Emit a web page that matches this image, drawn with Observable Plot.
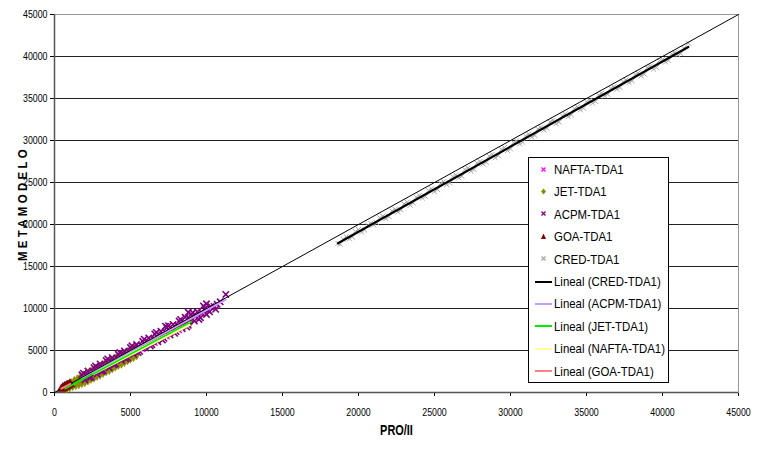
<!DOCTYPE html>
<html>
<head>
<meta charset="utf-8">
<script src="https://cdn.jsdelivr.net/npm/d3@7"></script>
<script src="https://cdn.jsdelivr.net/npm/@observablehq/plot@0.6"></script>
<style>
  html, body { margin: 0; padding: 0; background: white; }
  #wrap { position: relative; width: 757px; height: 450px; }
  #legend {
    position: absolute; left: 528px; top: 157px; width: 141px; height: 226px;
    border: 1px solid #000; background: white; box-sizing: border-box;
    font-family: "Liberation Sans", Arial, sans-serif; font-size: 13.5px; color: #000;
  }
  .row { position: absolute; left: 0; height: 20px; display: flex; align-items: center; white-space: nowrap; }
  .row svg { flex: none; }
  .row span { display: inline-block; transform-origin: left center; margin-left: 1px; }
  [aria-label="y-axis label"] text, [aria-label="x-axis label"] text { font-weight: bold; font-size: 14px; }
  [aria-label="y-axis label"] text { letter-spacing: 4px; font-size: 13.5px; }
</style>
</head>
<body>
<div id="wrap"><div id="legend"></div></div>
<script>
// ---- data ----
const xTicks = [0, 5000, 10000, 15000, 20000, 25000, 30000, 35000, 40000, 45000];
const yTicks = [0, 5000, 10000, 15000, 20000, 25000, 30000, 35000, 40000, 45000];
const gridTicks = [5000, 10000, 15000, 20000, 25000, 30000, 35000, 40000];
const diagonal = [0, 45000];

const naftaX = [2600, 2700, 3000, 3400, 3800, 4200, 4600, 5000, 5400, 5800, 6200, 6600, 7000, 7400, 7800, 8200, 8800];
const naftaY = [2500, 2200, 2850, 2950, 3600, 3700, 4350, 4450, 5050, 5150, 5800, 5900, 6550, 6650, 7250, 7400, 8100];

const jetX = [700, 800, 900, 1000, 1100, 1200, 1300, 1400, 1500, 1600, 1700, 1800, 1900, 2000, 2100, 2200, 2300, 2400, 2500, 2600, 2700, 2800, 2900, 3000, 3100, 3200, 3300, 3400, 3500, 3600, 3700, 3800, 3900, 4000, 4100, 4200, 4300, 4400, 4500, 4600, 4700, 4800, 4900, 5000, 5100, 5200, 5300, 5400, 5500, 6000, 6500, 7000, 7500, 8000, 8500, 9000];
const jetY = [650, 550, 850, 700, 1050, 850, 1300, 950, 1500, 1050, 1750, 1200, 1950, 1300, 2150, 1500, 2350, 1700, 2550, 1850, 2750, 2050, 2950, 2200, 3150, 2400, 3300, 2600, 3500, 2750, 3700, 2950, 3900, 3150, 4100, 3350, 4300, 3500, 4500, 3700, 4650, 3900, 4850, 4100, 5050, 4300, 5200, 4500, 5100, 5700, 6100, 6650, 7050, 7600, 8000, 8550];

const acpmX = [1800, 2000, 2200, 2400, 2600, 2800, 3000, 3200, 3400, 3600, 3800, 4000, 4200, 4400, 4600, 4800, 5000, 5200, 5400, 5600, 5800, 6000, 6200, 6400, 6600, 6800, 7000, 7200, 7400, 7600, 7800, 8000, 8200, 8400, 8600, 8800, 9000, 9200, 9400, 9600, 9800, 10000, 10300, 10600, 10900, 11270,
  2100, 2500, 2900, 3300, 3700, 4100, 4500, 4900, 5300, 5700, 6100, 6500, 6900, 7300, 7700, 8100, 8500, 8900, 9300, 9700, 10100, 10500,
  1900, 2300, 2700, 3100, 3500, 3900, 4300, 4700, 5100, 5500, 5900, 6300, 6700, 7100, 7500, 7900, 8300, 8700, 9100, 9500, 9900, 10200, 10700, 8800, 7300, 10000];
const acpmY = [2100, 1500, 2550, 1850, 2950, 2200, 3400, 2600, 3800, 2950, 4150, 3400, 4550, 3800, 4950, 4150, 5350, 4550, 5700, 4900, 6100, 5300, 6500, 5700, 6950, 6050, 7300, 6450, 7700, 6850, 8100, 7250, 8500, 7600, 8950, 8000, 9300, 8500, 9600, 8900, 10300, 9300, 10200, 9900, 10800, 11670,
  2090, 2470, 2900, 3250, 3700, 4050, 4500, 4800, 5250, 5600, 6000, 6350, 6800, 7150, 7550, 7950, 8300, 8700, 9100, 9450, 9800, 10250,
  2300, 1750, 3150, 2500, 4000, 3300, 4750, 4000, 5550, 4750, 6350, 5550, 7150, 6250, 7950, 7050, 8700, 7800, 9500, 8700, 10000, 9600, 10500, 9550, 7900, 10550];

const goaX = [450, 550, 600, 650, 700, 750, 800, 850, 900, 1000, 1050];
const goaY = [420, 600, 480, 700, 750, 650, 820, 900, 800, 1050, 950];

const credX = [18650, 19000, 19400, 19800, 20200, 20600, 21000, 21400, 21800, 22200, 22600, 23000, 23400, 23800, 24200, 24600, 25000, 25400, 25800, 26200, 26600, 27000, 27400, 27800, 28200, 28600, 29000, 29400, 29800, 30200, 30600, 31000, 31400, 31800, 32200, 32600, 33000, 33400, 33800, 34200, 34600, 35000, 35400, 35800, 36200, 36600, 37000, 37400, 37800, 38200, 38600, 39000, 39400, 39800, 40200, 40600, 41000, 41400, 41700,
  18800, 19200, 19600, 20000, 20400, 20800, 21200, 21600, 22000, 22400, 22800, 23200, 23600, 24000, 24400, 24800, 25200, 25600, 26000, 26400, 26800, 27200, 27600, 28000, 28400, 28800, 29200, 29600, 30000, 30400, 30800, 31200, 31600, 32000, 32400, 32800, 33200, 33600, 34000, 34400, 34800, 35200, 35600, 36000, 36400, 36800, 37200, 37600, 38000, 38400, 38800, 39200, 39600, 40000, 40400, 40800, 41200];
const credY = [17740, 18250, 18300, 19150, 19100, 19900, 19950, 20800, 20700, 21600, 21500, 22450, 22300, 23250, 23150, 24050, 23900, 24900, 24750, 25700, 25550, 26550, 26350, 27300, 27200, 28150, 27950, 28950, 28800, 29750, 29600, 30550, 30400, 31350, 31250, 32200, 32000, 32950, 32850, 33800, 33650, 34600, 34450, 35400, 35300, 36200, 36100, 37000, 36900, 37850, 37700, 38700, 38500, 39500, 39350, 40300, 40200, 41000, 41600,
  17650, 18550, 18500, 19400, 19350, 20150, 20200, 21000, 20950, 21800, 21750, 22650, 22550, 23450, 23350, 24250, 24150, 25100, 24950, 25900, 25750, 26700, 26550, 27500, 27400, 28350, 28200, 29150, 29000, 29950, 29800, 30750, 30600, 31550, 31450, 32400, 32200, 33150, 33050, 34000, 33850, 34800, 34650, 35600, 35500, 36400, 36300, 37200, 37100, 38050, 37900, 38850, 38700, 39650, 39550, 40450, 40350];

const seriesNames = ["NAFTA-TDA1", "JET-TDA1", "ACPM-TDA1", "GOA-TDA1", "CRED-TDA1"];
const trendNames = ["Lineal (CRED-TDA1)", "Lineal (ACPM-TDA1)", "Lineal (JET-TDA1)", "Lineal (NAFTA-TDA1)", "Lineal (GOA-TDA1)"];

// ---- build tables ----
const pts = (xs, ys) => xs.map((x, i) => ({x, y: ys[i]}));
const nafta = pts(naftaX, naftaY), jet = pts(jetX, jetY), acpm = pts(acpmX, acpmY), goa = pts(goaX, goaY), cred = pts(credX, credY);

const FONT = '"Liberation Sans", Arial, sans-serif';
const C = {
  nafta: "#ff00ff", jet: "#8c8c00", acpm: "#800080", goa: "#800000", cred: "#a6a6a6",
  tCred: "#000000", tAcpm: "#cc99ff", tJet: "#00ee00", tNafta: "#ffff99", tGoa: "#ff8080"
};

const chart = Plot.plot({
  width: 757, height: 450,
  marginLeft: 54, marginRight: 19, marginTop: 14, marginBottom: 58,
  style: {fontFamily: FONT, fontSize: "11px", background: "white", color: "#000", overflow: "visible"},
  x: {domain: [0, 45000], ticks: xTicks, tickFormat: d3.format("d"), tickSize: 4, tickPadding: 12,
      label: "PRO/II", labelAnchor: "center", labelOffset: 42, labelArrow: "none"},
  y: {domain: [0, 45000], ticks: yTicks, tickFormat: d3.format("d"), tickSize: 4, tickPadding: 3,
      label: "METAMODELO", labelAnchor: "center", labelOffset: 37, labelArrow: "none"},
  marks: [
    Plot.gridY(gridTicks, {stroke: "#222", strokeOpacity: 1, strokeWidth: 1}),
    Plot.frame({stroke: "#999", strokeWidth: 1}),
    Plot.ruleX([0], {stroke: "#555", strokeWidth: 1.5}),
    Plot.ruleY([0], {stroke: "#555", strokeWidth: 1.5}),
    Plot.dot(nafta, {x: "x", y: "y", symbol: "times", r: 2.6, stroke: C.nafta, strokeWidth: 1.3}),
    Plot.dot(jet, {x: "x", y: "y", symbol: "diamond", r: 3.2, fill: C.jet, stroke: C.jet, strokeWidth: 0.5}),
    Plot.dot(acpm, {x: "x", y: "y", symbol: "times", r: 3, stroke: C.acpm, strokeWidth: 1.6}),
    Plot.dot(goa, {x: "x", y: "y", symbol: "triangle", r: 3.2, fill: C.goa, stroke: C.goa, strokeWidth: 0.5}),
    Plot.dot(cred, {x: "x", y: "y", symbol: "times", r: 2.4, stroke: C.cred, strokeWidth: 1}),
    Plot.linearRegressionY(nafta, {x: "x", y: "y", stroke: C.tNafta, strokeWidth: 4, ci: 0}),
    Plot.linearRegressionY(acpm, {x: "x", y: "y", stroke: C.tAcpm, strokeWidth: 2, ci: 0}),
    Plot.linearRegressionY(jet, {x: "x", y: "y", stroke: C.tJet, strokeWidth: 1.6, ci: 0}),
    Plot.line(diagonal, {x: d => d, y: d => d, stroke: "#000", strokeWidth: 1}),
    Plot.linearRegressionY(cred, {x: "x", y: "y", stroke: C.tCred, strokeWidth: 2.2, ci: 0}),
    Plot.linearRegressionY(goa, {x: "x", y: "y", stroke: C.tGoa, strokeWidth: 2, ci: 0})
  ]
});
document.getElementById("wrap").prepend(chart);

// condense the axis texts (the original uses a narrow face)
chart.querySelectorAll('[aria-label="x-axis tick label"] text, [aria-label="y-axis tick label"] text').forEach(t => {
  const w = t.getComputedTextLength();
  t.setAttribute("textLength", (w * 0.8).toFixed(2));
  t.setAttribute("lengthAdjust", "spacingAndGlyphs");
});
chart.querySelectorAll('[aria-label="x-axis label"] text').forEach(t => {
  const w = t.getComputedTextLength();
  t.setAttribute("textLength", (w * 0.78).toFixed(2));
  t.setAttribute("lengthAdjust", "spacingAndGlyphs");
});
chart.querySelectorAll('[aria-label="y-axis label"] text').forEach(t => {
  t.setAttribute("textLength", "115");
  t.setAttribute("lengthAdjust", "spacingAndGlyphs");
});

// ---- legend (HTML overlay) ----
const legend = document.getElementById("legend");
const items = [
  {name: seriesNames[0], kind: "times", color: C.nafta},
  {name: seriesNames[1], kind: "diamond", color: C.jet},
  {name: seriesNames[2], kind: "times", color: C.acpm},
  {name: seriesNames[3], kind: "triangle", color: C.goa},
  {name: seriesNames[4], kind: "times", color: C.cred},
  {name: trendNames[0], kind: "line", color: C.tCred},
  {name: trendNames[1], kind: "line", color: C.tAcpm},
  {name: trendNames[2], kind: "line", color: C.tJet},
  {name: trendNames[3], kind: "line", color: C.tNafta},
  {name: trendNames[4], kind: "line", color: C.tGoa}
];
const spans = [];
items.forEach((it, i) => {
  const row = document.createElement("div");
  row.className = "row";
  row.style.top = (1.5 + i * 22.4) + "px";
  const ns = "http://www.w3.org/2000/svg";
  const svg = document.createElementNS(ns, "svg");
  svg.setAttribute("width", 24);
  svg.setAttribute("height", 20);
  let shape;
  if (it.kind === "line") {
    shape = document.createElementNS(ns, "line");
    shape.setAttribute("x1", 6); shape.setAttribute("x2", 23);
    shape.setAttribute("y1", 10); shape.setAttribute("y2", 10);
    shape.setAttribute("stroke", it.color); shape.setAttribute("stroke-width", 2);
  } else if (it.kind === "times") {
    shape = document.createElementNS(ns, "path");
    shape.setAttribute("d", "M12.5,7.5L16.5,11.5M16.5,7.5L12.5,11.5");
    shape.setAttribute("stroke", it.color); shape.setAttribute("stroke-width", 1.3);
  } else if (it.kind === "diamond") {
    shape = document.createElementNS(ns, "path");
    shape.setAttribute("d", "M14.5,6.5L17,9.5L14.5,12.5L12,9.5Z");
    shape.setAttribute("fill", it.color);
  } else {
    shape = document.createElementNS(ns, "path");
    shape.setAttribute("d", "M14.5,6.5L17,12L12,12Z");
    shape.setAttribute("fill", it.color);
  }
  svg.appendChild(shape);
  row.appendChild(svg);
  const span = document.createElement("span");
  span.textContent = it.name;
  row.appendChild(span);
  legend.appendChild(row);
  spans.push(span);
});
const widest = Math.max(...spans.map(s => s.getBoundingClientRect().width));
const sx = 111 / widest;
spans.forEach(s => { s.style.transform = `scaleX(${sx.toFixed(3)})`; });
</script>
</body>
</html>
